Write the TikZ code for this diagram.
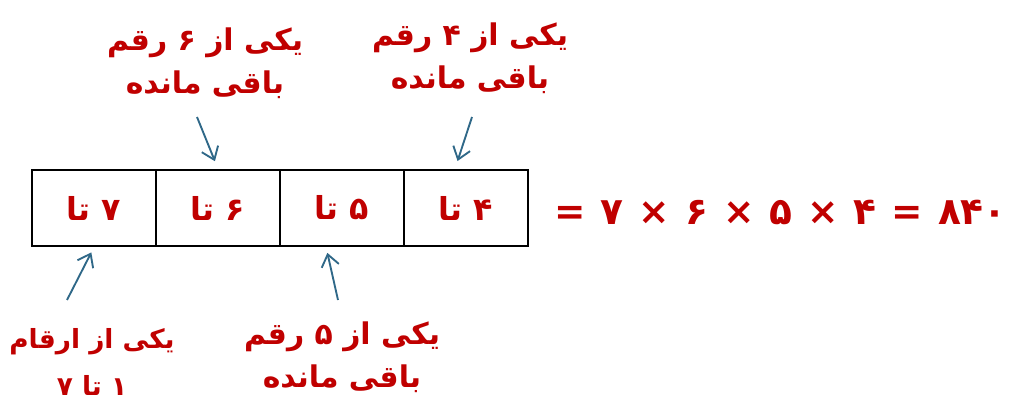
\documentclass[tikz,border=0pt]{standalone}
\usepackage{fontspec}
\newfontfamily\arabicfont[Script=Arabic]{DejaVu Sans}
\TeXXeTstate=1
\usetikzlibrary{arrows.meta,positioning}
\definecolor{numred}{HTML}{C00000}
\definecolor{arrowblue}{HTML}{2F6888}
\newcommand{\gap}{\hspace{0.4em}}

\begin{document}
\begin{tikzpicture}[
  x=0.03cm, y=-0.03cm,
  cell/.style={draw, line width=2pt, minimum width=3.72cm, minimum height=2.28cm, inner sep=0pt, text=numred, font=\arabicfont\bfseries\fontsize{27}{30}\selectfont},
  note/.style={align=center, text=numred, font=\arabicfont\bfseries\fontsize{25.5}{37}\selectfont},
  eqn/.style={text=numred, inner xsep=0pt, font=\arabicfont\bfseries\fontsize{32}{36}\selectfont},
  pointer/.style={-{Straight Barb[length=10pt, width=15pt]}, line width=1.6pt, draw=arrowblue}
]
\useasboundingbox (0,0) rectangle (1009,404);

% the four places
\node[cell] (c7) at (94,208) {\beginR ۷ تا\endR};
\node[cell] (c6) at (218,208) {\beginR ۶ تا\endR};
\node[cell] (c5) at (342,208) {\beginR ۵ تا\endR};
\node[cell] (c4) at (466,208) {\beginR ۴ تا\endR};

\node[eqn, anchor=east] (prod) at (1007,212) {=\gap ۷\gap ×\gap ۶\gap ×\gap ۵\gap ×\gap ۴\gap =\gap ۸۴۰};

% notes
\node[note] (n6) at (205,63) {\beginR یکی از ۶ رقم\endR\\\beginR باقی مانده\endR};
\node[note] (n4) at (470,58) {\beginR یکی از ۴ رقم\endR\\\beginR باقی مانده\endR};
\node[note, font=\arabicfont\bfseries\fontsize{22.5}{40}\selectfont] (n7) at (92,362) {\beginR یکی از ارقام\endR\\\beginR ۱ تا ۷\endR};
\node[note] (n5) at (342,357) {\beginR یکی از ۵ رقم\endR\\\beginR باقی مانده\endR};

\coordinate (t6) at (197,117);
\coordinate (t4) at (472,117);
\coordinate (t7) at (67,300);
\coordinate (t5) at (338,300);

\draw[pointer, shorten >=7pt] (t6) -- (c6.north);
\draw[pointer, shorten >=7pt] (t4) -- ([xshift=-9.4pt]c4.north);
\draw[pointer, shorten >=5pt] (t7) -- (c7.south);
\draw[pointer, shorten >=5pt] (t5) -- ([xshift=-13.6pt]c5.south);

\end{tikzpicture}
\end{document}
